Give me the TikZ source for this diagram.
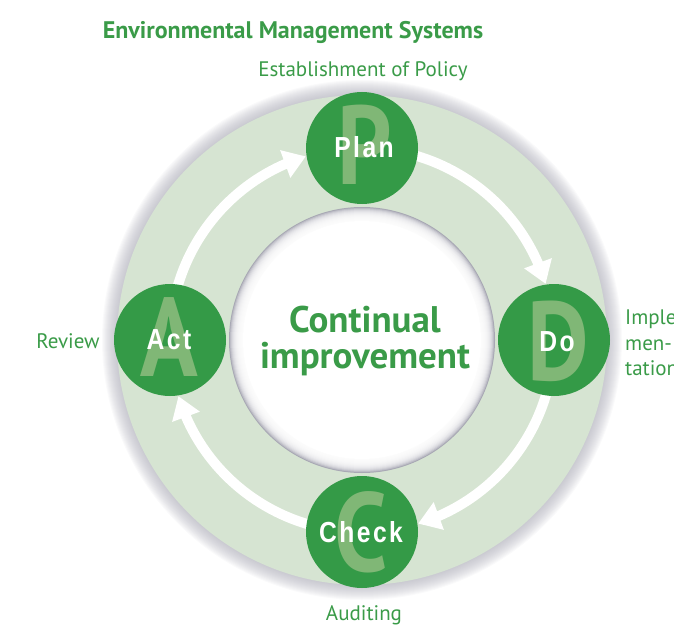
\documentclass[tikz,border=0pt]{standalone}
\usepackage{fontspec}
\setmainfont{PT Sans}
\newfontfamily\labfont{Liberation Sans}[LetterSpace=10]
\usetikzlibrary{arrows.meta,bending,calc}
\definecolor{tgreen}{HTML}{3A9B48}
\definecolor{ngreen}{HTML}{349A47}
\definecolor{lgreen}{HTML}{80B776}
\definecolor{ringc}{HTML}{D6E4D2}
\definecolor{shad}{HTML}{A8A8B4}
\pgfdeclarelayer{bg}\pgfdeclarelayer{mid}\pgfsetlayers{bg,mid,main}
\tikzset{
  stage/.style={circle,fill=ngreen,minimum size=112pt,inner sep=0pt},
  bigl/.style={inner sep=0pt,text=lgreen,font=\fontsize{112}{112}\selectfont\bfseries},
  stlab/.style={inner sep=0pt,text=white,font=\labfont\fontsize{29}{29}\selectfont\bfseries},
  flow/.style={draw=white,line width=10pt,-{Triangle[length=22pt,width=28pt,flex]}},
  gtext/.style={inner sep=0pt,text=tgreen,font=\fontsize{21}{25.5}\selectfont},
}
\newcommand\cond[1]{\scalebox{0.85}[1]{#1}}
\newcommand\condl[1]{\scalebox{0.85}[1]{#1}}
\begin{document}
\begin{tikzpicture}[x=1pt,y=1pt]
\useasboundingbox (0,0) rectangle (674,625);
\clip (0,0) rectangle (674,625);
\coordinate (O) at (362,285);
% ring and shadows
\begin{pgfonlayer}{bg}
  \foreach \k in {15,14,...,1} {
    \fill[shad,opacity=0.06] (O) circle[radius=245+\k];
  }
  \fill[ringc] (O) circle[radius=245];
  \fill[shad] (O) circle[radius=133];
  \foreach \k in {1,...,13} {
    \fill[white,opacity=0.25] (O) circle[radius=133-\k];
  }
  \fill[white] (O) circle[radius=119];
\end{pgfonlayer}
% stages
\node[stage] (Plan)  at ([shift={(90:192)}]O) {};
\node[stage] (Do)    at ([shift={(0:192)}]O) {};
\node[stage] (Check) at ([shift={(270:192)}]O) {};
\node[stage] (Act)   at ([shift={(180:192)}]O) {};
\node[bigl] (PlanB)  at ([shift={(3,3)}]Plan.center) {\cond{P}};
\node[bigl] (DoB)    at ([shift={(4,-1)}]Do.center) {\cond{D}};
\node[bigl] (CheckB) at ([shift={(-1,0)}]Check.center) {\cond{C}};
\node[bigl] (ActB)   at ([shift={(-1,3)}]Act.center) {\cond{A}};
\node[stlab] (PlanT)  at ([shift={(2,1)}]Plan.center) {\condl{Plan}};
\node[stlab] (DoT)    at ([shift={(3,-2)}]Do.center) {\condl{Do}};
\node[stlab] (CheckT) at ([shift={(-1,0)}]Check.center) {\condl{Check}};
\node[stlab] (ActT)   at ([shift={(-1,0)}]Act.center) {\condl{Act}};
% arrows
\begin{pgfonlayer}{mid}
  \draw[flow] (Act.center) arc[start angle=180,end angle=107,radius=192];
  \draw[flow] (Plan.center) arc[start angle=90,end angle=17,radius=192];
  \draw[flow] (Do.center) arc[start angle=0,end angle=-73,radius=192];
  \draw[flow] (Check.center) arc[start angle=270,end angle=197,radius=192];
\end{pgfonlayer}
% texts
\node[inner sep=0pt,text=tgreen,font=\fontsize{37}{40}\selectfont\bfseries,align=center] (Center) at ([shift={(3,-1)}]O) {Continual\\[-4pt]improvement};
\node[inner sep=0pt,text=tgreen,font=\fontsize{24}{28}\selectfont\bfseries] (Title) at (293,593) {Environmental Management Systems};
\node[gtext] (Policy) at (363,554) {Establishment of Policy};
\node[gtext] (Review) at (68,284) {Review};
\node[gtext,anchor=west,align=left] (Impl) at (625,282) {Imple\\men-\\tation};
\node[gtext] (Audit) at (364,10) {Auditing};
\end{tikzpicture}
\end{document}
